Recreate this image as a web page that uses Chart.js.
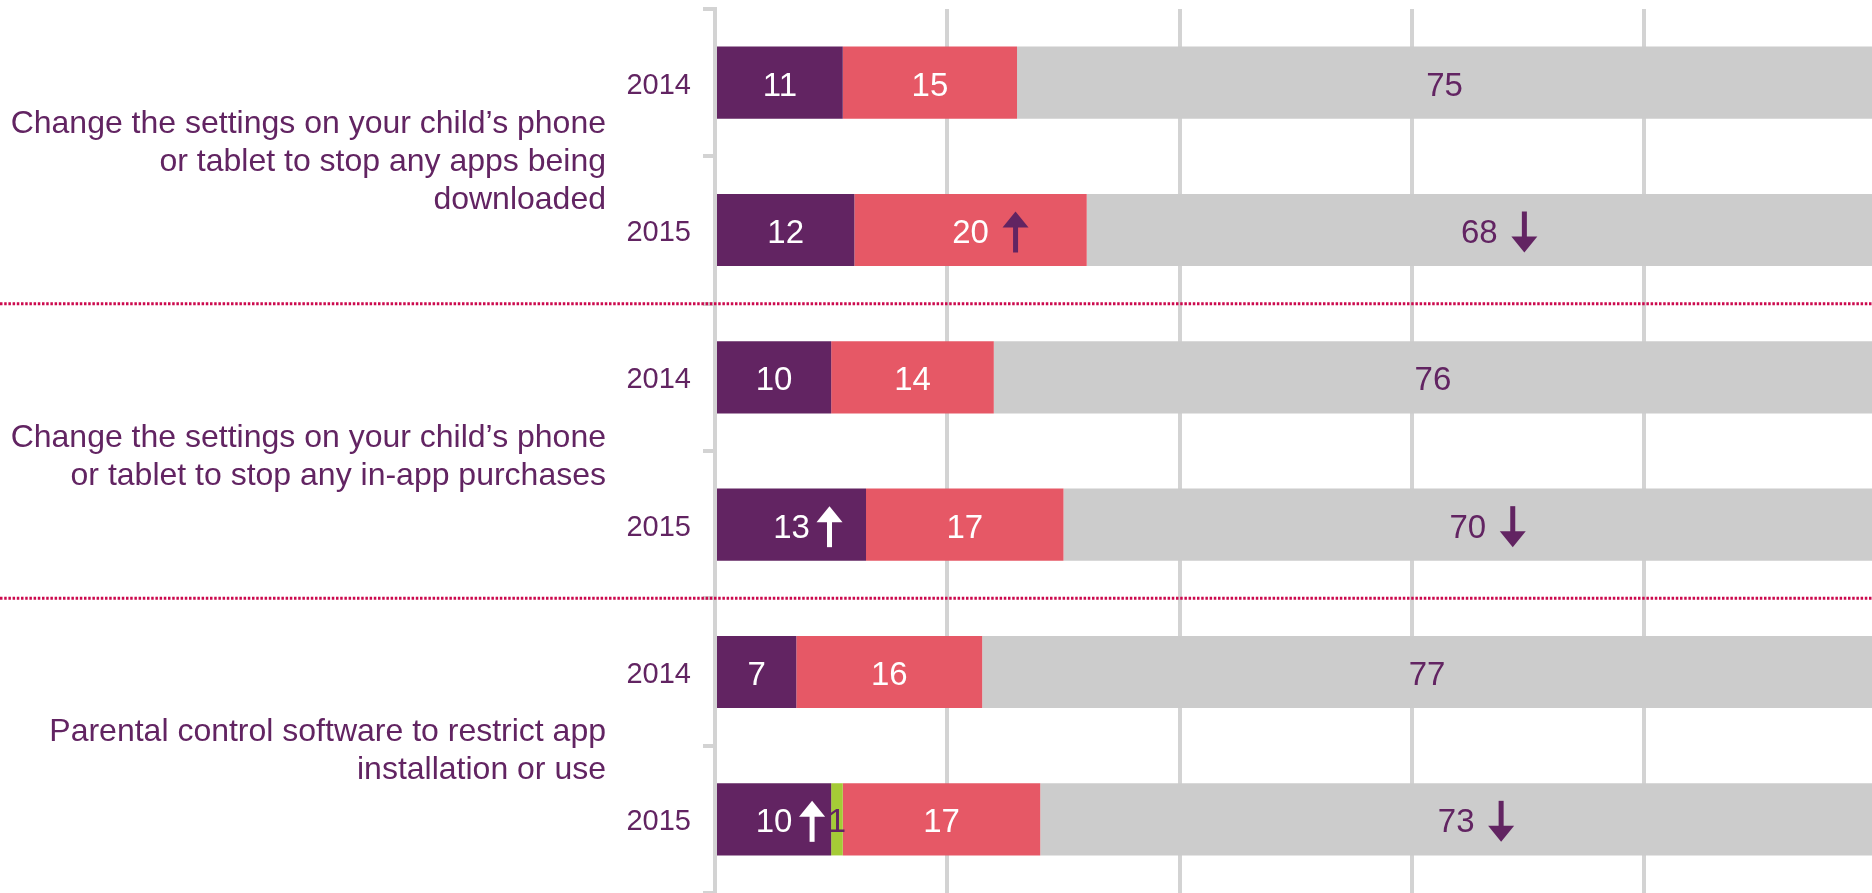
<!DOCTYPE html>
<html>
<head>
<meta charset="utf-8">
<script src="https://cdn.jsdelivr.net/npm/chart.js@4.4.1/dist/chart.umd.min.js"></script>
<style>
    html, body { margin: 0; padding: 0; background: #ffffff; }
    #box { width: 1872px; height: 893px; position: relative; }
</style>
</head>
<body>
<div id="box"><canvas id="graphique"></canvas></div>
<script>
const annees = ['2014', '2015', '2014', '2015', '2014', '2015'];
const groupes = [
    ['Change the settings on your child\u2019s phone', 'or tablet to stop any apps being', 'downloaded'],
    ['Change the settings on your child\u2019s phone', 'or tablet to stop any in-app purchases'],
    ['Parental control software to restrict app', 'installation or use'],
];
const valeursViolet = [11, 12, 10, 13, 7, 10];
const valeursVert = [0, 0, 0, 0, 0, 1];
const valeursRouge = [15, 20, 14, 17, 16, 17];
const valeursGris = [75, 68, 76, 70, 77, 73];

// fleches de tendance (2015 vs 2014)
const flechesViolet = [null, null, null, 'up', null, 'up'];
const flechesVert = [null, null, null, null, null, null];
const flechesRouge = [null, 'up', null, null, null, null];
const flechesGris = [null, 'down', null, 'down', null, 'down'];

const VIOLET = '#622462';
const POLICE = 'Arial, "Liberation Sans", sans-serif';

function dessinerFleche(ctx, x, y, sens, couleur) {
    const h = 41, tete = 16, demi = 13, tige = 5;
    ctx.save();
    ctx.fillStyle = couleur;
    if (sens === 'up') {
        const haut = y - h / 2;
        ctx.beginPath();
        ctx.moveTo(x, haut);
        ctx.lineTo(x + demi, haut + tete);
        ctx.lineTo(x - demi, haut + tete);
        ctx.closePath();
        ctx.fill();
        ctx.fillRect(x - tige / 2, haut + tete - 1, tige, h - tete + 1);
    } else {
        const bas = y + h / 2;
        ctx.beginPath();
        ctx.moveTo(x, bas);
        ctx.lineTo(x + demi, bas - tete);
        ctx.lineTo(x - demi, bas - tete);
        ctx.closePath();
        ctx.fill();
        ctx.fillRect(x - tige / 2, y - h / 2, tige, h - tete + 1);
    }
    ctx.restore();
}

const pluginEtiquettes = {
    id: 'etiquettes',
    afterDatasetsDraw(chart) {
        const ctx = chart.ctx;
        const zone = chart.chartArea;
        ctx.save();
        ctx.font = '33px ' + POLICE;
        ctx.textAlign = 'center';
        ctx.textBaseline = 'middle';
        chart.data.datasets.forEach((ds, i) => {
            const meta = chart.getDatasetMeta(i);
            meta.data.forEach((barre, j) => {
                const v = ds.data[j];
                if (!v) return;
                const g = Math.max(Math.min(barre.x, barre.base), zone.left);
                const d = Math.min(Math.max(barre.x, barre.base), zone.right);
                const cx = (g + d) / 2;
                ctx.fillStyle = ds.couleurTexte;
                ctx.fillText(String(v), cx, barre.y + 4);
                const sens = ds.fleches[j];
                if (sens) {
                    const decalage = ds.couleurFleche === '#ffffff' ? 38 : 45;
                    dessinerFleche(ctx, cx + decalage, barre.y + 2, sens, ds.couleurFleche);
                }
            });
        });
        ctx.restore();
    },
    afterDraw(chart) {
        const ctx = chart.ctx;
        const y = chart.scales.y;
        ctx.save();
        // separateurs pointilles entre les groupes
        ctx.strokeStyle = '#cc0a4e';
        ctx.lineWidth = 3;
        ctx.setLineDash([2.5, 1.7]);
        for (let i = 1; i < annees.length - 1; i += 2) {
            const py = (y.getPixelForValue(i) + y.getPixelForValue(i + 1)) / 2;
            ctx.beginPath();
            ctx.moveTo(0, py);
            ctx.lineTo(chart.width, py);
            ctx.stroke();
        }
        ctx.setLineDash([]);
        // libelles des groupes
        ctx.fillStyle = VIOLET;
        ctx.font = '32px ' + POLICE;
        ctx.textAlign = 'right';
        ctx.textBaseline = 'middle';
        const interligne = 38;
        groupes.forEach((lignes, g) => {
            const centre = (y.getPixelForValue(2 * g) + y.getPixelForValue(2 * g + 1)) / 2 + 6;
            const debut = centre - (lignes.length - 1) * interligne / 2;
            lignes.forEach((texte, k) => {
                ctx.fillText(texte, 606, debut + k * interligne);
            });
        });
        ctx.restore();
    },
};

const data = {
    labels: annees,
    datasets: [
        { data: valeursViolet, backgroundColor: VIOLET, couleurTexte: '#ffffff', fleches: flechesViolet, couleurFleche: '#ffffff' },
        { data: valeursVert, backgroundColor: '#a5cb36', couleurTexte: VIOLET, fleches: flechesVert, couleurFleche: VIOLET },
        { data: valeursRouge, backgroundColor: '#e65866', couleurTexte: '#ffffff', fleches: flechesRouge, couleurFleche: VIOLET },
        { data: valeursGris, backgroundColor: '#cccccc', couleurTexte: VIOLET, fleches: flechesGris, couleurFleche: VIOLET },
    ],
};

const config = {
    type: 'bar',
    data: data,
    options: {
        indexAxis: 'y',
        responsive: true,
        maintainAspectRatio: false,
        animation: false,
        layout: { padding: { top: 9, left: 0, right: 0, bottom: 0 } },
        datasets: {
            bar: { categoryPercentage: 1, barPercentage: 0.49, borderWidth: 0 },
        },
        plugins: {
            legend: { display: false },
            tooltip: { enabled: false },
        },
        scales: {
            x: {
                stacked: true,
                min: 0,
                max: 99.6,
                afterFit(scale) {
                    scale.height = 0;
                    scale.paddingLeft = 0;
                    scale.paddingRight = 0;
                },
                ticks: { display: false, stepSize: 20, includeBounds: false },
                grid: { color: '#d3d3d3', lineWidth: 4, drawTicks: false },
                border: { display: false },
            },
            y: {
                stacked: true,
                afterFit(scale) {
                    scale.width = 715;
                    scale.paddingTop = 0;
                    scale.paddingBottom = 0;
                },
                ticks: {
                    color: VIOLET,
                    font: { size: 29, family: POLICE },
                    padding: 12,
                    labelOffset: 3,
                },
                grid: {
                    offset: true,
                    drawOnChartArea: false,
                    drawTicks: true,
                    tickLength: 12,
                    color: '#d3d3d3',
                    lineWidth: 4,
                },
                border: { display: true, color: '#d3d3d3', width: 4 },
            },
        },
    },
    plugins: [pluginEtiquettes],
};

new Chart(document.querySelector('#graphique'), config);
</script>
</body>
</html>
